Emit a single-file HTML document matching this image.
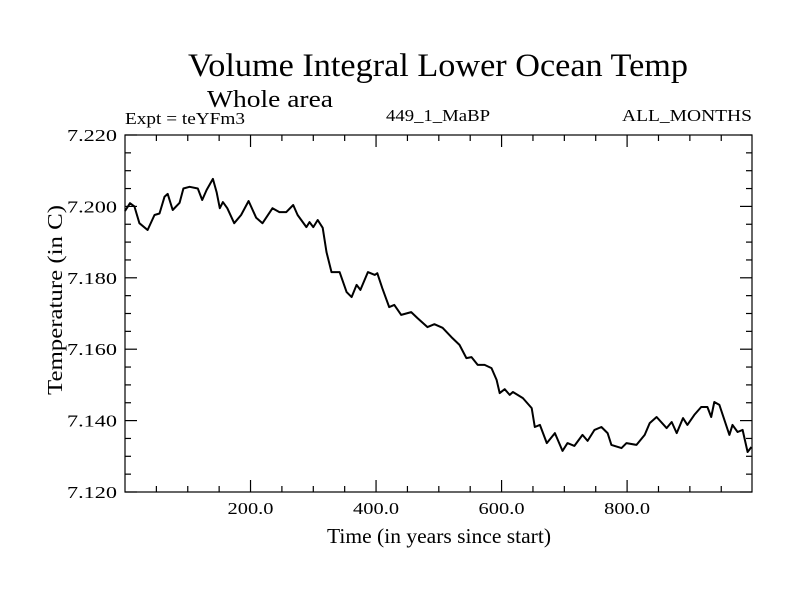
<!DOCTYPE html>
<html><head><meta charset="utf-8"><style>
body{margin:0;background:#fff}
svg text{font-family:"Liberation Serif",serif;fill:#000}
</style></head><body>
<svg id="chart" width="800" height="600">
<text x="188" y="76" font-size="33" textLength="500" lengthAdjust="spacingAndGlyphs">Volume Integral Lower Ocean Temp</text>
<text x="207" y="107" font-size="24" textLength="126" lengthAdjust="spacingAndGlyphs">Whole area</text>
<text x="125" y="124" font-size="17" textLength="120" lengthAdjust="spacingAndGlyphs">Expt = teYFm3</text>
<text x="386" y="121" font-size="17" textLength="104" lengthAdjust="spacingAndGlyphs">449_1_MaBP</text>
<text x="622" y="121" font-size="17" textLength="130" lengthAdjust="spacingAndGlyphs">ALL_MONTHS</text>
<text x="327" y="543" font-size="21" textLength="224" lengthAdjust="spacingAndGlyphs">Time (in years since start)</text>
<text transform="translate(62,395) rotate(-90)" font-size="21" textLength="190" lengthAdjust="spacingAndGlyphs">Temperature (in C)</text>
<g id="axes"></g>
<path id="line" fill="none" stroke="#000" stroke-width="2" stroke-linejoin="round"/>
<rect x="125" y="135" width="627" height="357" fill="none" stroke="#000" stroke-width="1.2"/>
</svg>
<script>
const years=[0,8,15,23,36,47,55,63,68,76,87,93,103,116,123,130,140,146,151,156,163,174,185,197,209,219,235,246,257,268,275,289,294,300,307,315,321,329,342,353,361,369,375,387,398,402,410,421,429,440,456,466,482,493,506,520,533,544,552,562,573,584,592,597,605,613,618,634,648,653,661,672,685,697,705,716,729,737,748,759,769,775,791,799,815,828,836,847,863,871,879,889,896,907,918,928,934,939,947,955,963,968,976,984,992,998];
const temps=[7.1987,7.2009,7.2000,7.1953,7.1934,7.1976,7.1980,7.2027,7.2035,7.1990,7.2010,7.2050,7.2055,7.2050,7.2018,7.2046,7.2077,7.2040,7.1995,7.2012,7.1995,7.1953,7.1976,7.2015,7.1968,7.1953,7.1995,7.1984,7.1984,7.2004,7.1976,7.1942,7.1956,7.1942,7.1962,7.1940,7.1872,7.1816,7.1816,7.1760,7.1746,7.1780,7.1766,7.1816,7.1808,7.1813,7.1771,7.1718,7.1724,7.1696,7.1704,7.1687,7.1662,7.1670,7.1660,7.1634,7.1612,7.1575,7.1578,7.1556,7.1556,7.1547,7.1514,7.1477,7.1488,7.1472,7.1480,7.1463,7.1435,7.1382,7.1388,7.1337,7.1365,7.1315,7.1337,7.1329,7.1360,7.1343,7.1374,7.1382,7.1365,7.1332,7.1323,7.1337,7.1332,7.1360,7.1393,7.1410,7.1379,7.1396,7.1365,7.1407,7.1388,7.1416,7.1438,7.1438,7.1410,7.1452,7.1444,7.1402,7.1360,7.1388,7.1368,7.1374,7.1312,7.1326];
const xTicks=[200,400,600,800];
const xTickLabels=["200.0","400.0","600.0","800.0"];
const yTicks=[7.12,7.14,7.16,7.18,7.2,7.22];
const yTickLabels=["7.120","7.140","7.160","7.180","7.200","7.220"];
const L=125,R=752,T=135,B=492,X0=0,X1=999,Y0=7.12,Y1=7.22;
const xs=v=>L+(v-X0)/(X1-X0)*(R-L);
const ys=v=>B-(v-Y0)/(Y1-Y0)*(B-T);
const NS="http://www.w3.org/2000/svg";
const ax=document.getElementById('axes');
function ln(x1,y1,x2,y2,name){const l=document.createElementNS(NS,'line');l.setAttribute('x1',x1);l.setAttribute('y1',y1);l.setAttribute('x2',x2);l.setAttribute('y2',y2);l.setAttribute('stroke','#000');l.setAttribute('stroke-width','1.2');


ax.appendChild(l);}
function tx(x,y,s,anchor,w,name){const t=document.createElementNS(NS,'text');t.setAttribute('x',x);t.setAttribute('y',y);t.setAttribute('font-size','17');t.setAttribute('text-anchor',anchor);t.setAttribute('textLength',w);t.setAttribute('lengthAdjust','spacingAndGlyphs');t.textContent=s;


ax.appendChild(t);}
for(let v=50;v<X1;v+=50){const x=xs(v);const maj=v%200===0;const h=maj?12:6;ln(x,B,x,B-h,'x-tick');ln(x,T,x,T+h,'x-tick-top');}
xTicks.forEach((v,i)=>tx(xs(v),514,xTickLabels[i],'middle',46,'x-tick-label'));
for(let k=0;k<=20;k++){const v=Y0+k*0.005;const y=ys(v);const maj=k%4===0;const h=maj?12:6;ln(L,y,L+h,y,'y-tick');ln(R,y,R-h,y,'y-tick-right');}
yTicks.forEach((v,i)=>tx(117,ys(v)+6,yTickLabels[i],'end',50,'y-tick-label'));
let d='';years.forEach((y,i)=>{d+=(i?'L':'M')+xs(y).toFixed(1)+','+ys(temps[i]).toFixed(1);});
document.getElementById('line').setAttribute('d',d);
</script>
</body></html>
